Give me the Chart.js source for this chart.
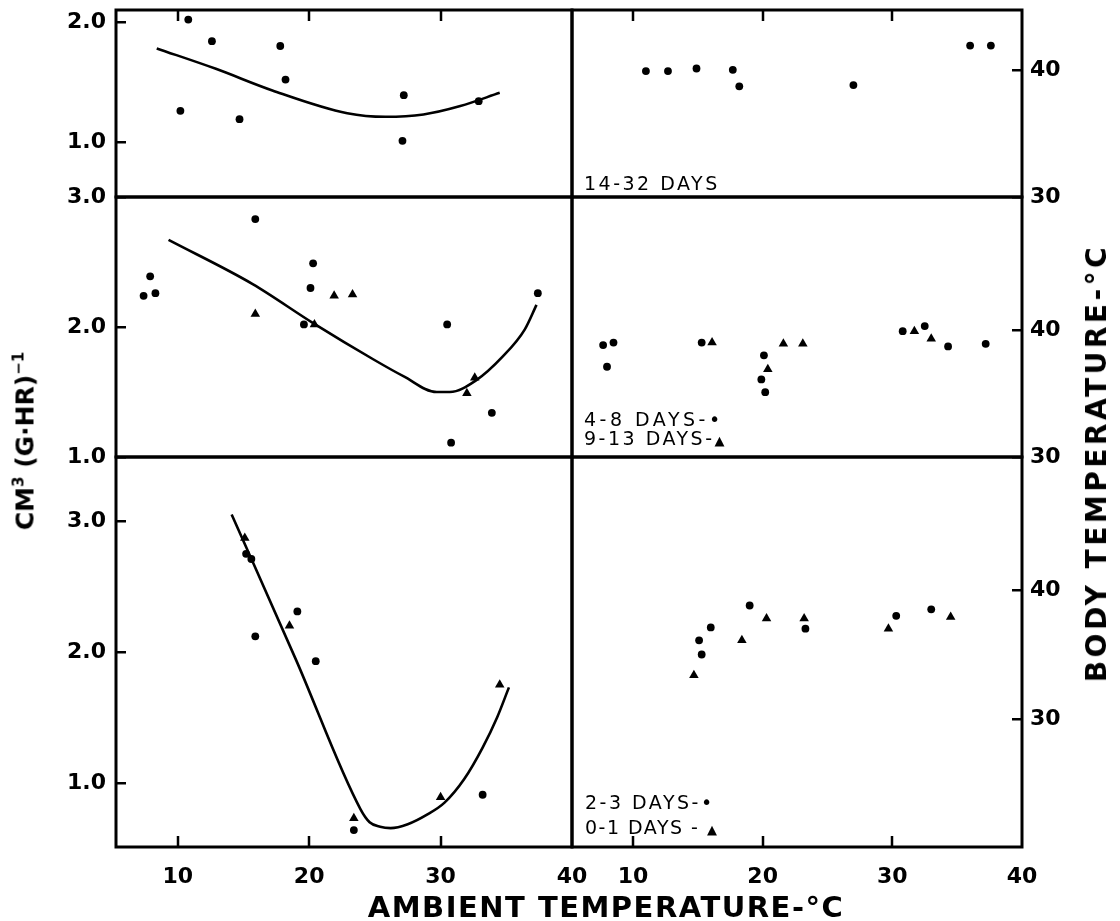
<!DOCTYPE html>
<html>
<head>
<meta charset="utf-8">
<script src="https://cdn.jsdelivr.net/npm/chart.js@4.4.1/dist/chart.umd.min.js"></script>
<style>
  body { margin: 0; background: #fff; }
  #fig { position: relative; width: 1120px; height: 921px; overflow: hidden; font-family: "DejaVu Sans", sans-serif; color: #000; }
  #fig canvas { position: absolute; left: -100px; top: -100px; }
  .lbl { position: absolute; white-space: nowrap; line-height: 1; }
  .leg { font-size: 19px; letter-spacing: 2.5px; }
  .ttl { font-weight: bold; }
  .mid { transform: translate(-50%, -50%); }
  .rot { transform: translate(-50%, -50%) rotate(-90deg); }
  sup { font-size: 60%; vertical-align: 0.7em; line-height: 0; }
</style>
</head>
<body>
<div id="fig">
  <canvas id="tl" width="1320" height="1121"></canvas>
  <canvas id="tr" width="1320" height="1121"></canvas>
  <canvas id="ml" width="1320" height="1121"></canvas>
  <canvas id="mr" width="1320" height="1121"></canvas>
  <canvas id="bl" width="1320" height="1121"></canvas>
  <canvas id="br" width="1320" height="1121"></canvas>

  <div class="lbl leg" style="left:584px;top:174px">14-32 DAYS</div>
  <div class="lbl leg" style="left:584px;top:410px;letter-spacing:3.5px">4-8 DAYS-•</div>
  <div class="lbl leg" style="left:584px;top:429px">9-13 DAYS-<span style="font-size:13px">▲</span></div>
  <div class="lbl leg" style="left:585px;top:793px">2-3 DAYS-•</div>
  <div class="lbl leg" style="left:585px;top:818px;letter-spacing:1.5px">0-1 DAYS - <span style="font-size:13px">▲</span></div>

  <div class="lbl ttl mid" style="left:606px;top:907px;font-size:29px;letter-spacing:1.5px">AMBIENT TEMPERATURE-°C</div>
  <div class="lbl ttl rot" style="left:25px;top:441px;font-size:25px">CM<sup>3</sup> (G·HR)<sup>−1</sup></div>
  <div class="lbl ttl rot" style="left:1097px;top:463px;font-size:28px;letter-spacing:3.5px">BODY TEMPERATURE-°C</div>
</div>
<script>
// canvases overhang the page by OFF px on every side
const OFF = 100, CW = 1320, CH = 1121;

// ambient temperature ticks (both columns)
const xTicks = [10, 20, 30, 40];
const xMarks = [10, 20, 30];
const oxyTicksTop = [1.0, 2.0];
const oxyTicks = [1.0, 2.0, 3.0];
const bodyTicks = [30, 40];

// 14-32 days
const oxy14X = [10.8, 12.6, 17.8, 18.2, 10.2, 14.7, 27.2, 27.1, 32.9];
const oxy14Y = [2.02, 1.84, 1.80, 1.52, 1.26, 1.19, 1.39, 1.01, 1.34];
const fit14X = [8.4, 12.9, 17.2, 22.9, 25.8, 28.7, 31.5, 34.5];
const fit14Y = [1.78, 1.61, 1.43, 1.24, 1.21, 1.23, 1.30, 1.41];
const body14X = [11.0, 12.7, 14.9, 17.7, 18.2, 27.0, 36.0, 37.6];
const body14Y = [39.9, 39.9, 40.1, 40.0, 38.7, 38.8, 41.9, 41.9];

// 4-8 days (circles) and 9-13 days (triangles)
const oxy48X = [7.4, 7.9, 8.3, 15.9, 19.6, 20.1, 20.3, 30.5, 30.8, 33.9, 37.4];
const oxy48Y = [2.24, 2.39, 2.26, 2.83, 2.02, 2.30, 2.49, 2.02, 1.11, 1.34, 2.26];
const oxy913X = [15.9, 20.4, 21.9, 23.3, 32.0, 32.6];
const oxy913Y = [2.10, 2.02, 2.24, 2.25, 1.49, 1.61];
const fit48X = [9.3, 15.7, 20.3, 24.9, 27.2, 29.7, 30.7, 32.7, 34.7, 36.4, 37.3];
const fit48Y = [2.67, 2.33, 2.03, 1.75, 1.62, 1.50, 1.50, 1.59, 1.77, 1.98, 2.17];
const body48X = [7.7, 8.5, 8.0, 15.3, 20.1, 19.9, 20.2, 30.8, 32.5, 34.3, 37.2];
const body48Y = [38.8, 39.0, 37.1, 39.0, 38.0, 36.1, 35.1, 39.9, 40.3, 38.7, 38.9];
const body913X = [16.1, 20.4, 21.6, 23.1, 31.7, 33.0];
const body913Y = [39.0, 36.9, 38.9, 38.9, 39.9, 39.3];

// 2-3 days (circles) and 0-1 days (triangles)
const oxy23X = [15.2, 15.6, 15.9, 19.1, 20.5, 23.4, 33.2];
const oxy23Y = [2.75, 2.71, 2.12, 2.31, 1.93, 0.64, 0.91];
const oxy01X = [15.1, 18.5, 34.5, 23.4, 30.0];
const oxy01Y = [2.87, 2.20, 1.75, 0.73, 0.89];
const fit01X = [14.1, 19.0, 23.9, 24.6, 25.4, 26.2, 27.5, 29.0, 30.3, 31.8, 33.2, 34.3, 35.2];
const fit01Y = [3.05, 1.94, 0.80, 0.70, 0.665, 0.655, 0.685, 0.76, 0.85, 1.03, 1.27, 1.50, 1.73];
const body23X = [15.1, 15.3, 16.0, 19.0, 23.3, 30.3, 33.0];
const body23Y = [36.1, 35.0, 37.1, 38.8, 37.0, 38.0, 38.5];
const body01X = [14.7, 18.4, 20.3, 23.2, 29.7, 34.5];
const body01Y = [33.4, 36.1, 37.8, 37.8, 37.0, 37.9];

const zip = (xs, ys) => xs.map((x, i) => ({ x, y: ys[i] }));

const dots = (xs, ys) => ({
  data: zip(xs, ys), pointStyle: 'circle', pointRadius: 3.9,
  backgroundColor: '#000', borderColor: '#000', borderWidth: 0
});
const tris = (xs, ys) => ({
  data: zip(xs, ys), pointStyle: 'triangle', pointRadius: 5.5,
  backgroundColor: '#000', borderColor: '#000', borderWidth: 0
});
const curve = (xs, ys) => ({
  data: zip(xs, ys), showLine: true, pointRadius: 0, borderColor: '#000',
  borderWidth: 2.6, cubicInterpolationMode: 'monotone', fill: false
});

// panel edges in page pixels
const colL = [116, 572], colR = [572, 1022];
const rowT = [10, 197], rowM = [197, 457], rowB = [457, 847];
const Y_LEFT_W = 100, Y_RIGHT_W = 80, X_BOTTOM_H = 50;

// frame round the plot area, plus short inward marks at the x values given
function makeFrame(topVals, bottomVals) {
  return {
    id: 'frame',
    afterDraw(chart) {
      const a = chart.chartArea, c = chart.ctx, sx = chart.scales.x;
      c.save();
      c.strokeStyle = '#000';
      c.lineWidth = 3;
      c.strokeRect(a.left, a.top, a.right - a.left, a.bottom - a.top);
      c.lineWidth = 2.5;
      c.beginPath();
      topVals.forEach(v => {
        const px = Math.round(sx.getPixelForValue(v));
        c.moveTo(px, a.top);
        c.lineTo(px, a.top + 11);
      });
      bottomVals.forEach(v => {
        const px = Math.round(sx.getPixelForValue(v));
        c.moveTo(px, a.bottom);
        c.lineTo(px, a.bottom - 11);
      });
      c.stroke();
      c.restore();
    }
  };
}

const tickFont = { family: 'DejaVu Sans', size: 22, weight: 'bold' };

function xScale(labels) {
  return {
    type: 'linear', position: 'bottom', min: 5.3, max: 40, display: labels,
    afterFit: s => { s.height = labels ? X_BOTTOM_H : 0; },
    afterBuildTicks: s => { s.ticks = xTicks.map(v => ({ value: v })); },
    ticks: {
      color: '#000', font: tickFont, padding: 9,
      maxRotation: 0, minRotation: 0, autoSkip: false
    },
    grid: { display: false },
    border: { display: false }
  };
}

function yScale(pos, min, max, ticks, digits) {
  return {
    type: 'linear', position: pos, min, max,
    afterFit: s => { s.width = pos === 'left' ? Y_LEFT_W : Y_RIGHT_W; },
    afterBuildTicks: s => { s.ticks = ticks.map(v => ({ value: v })); },
    ticks: {
      color: '#000', font: tickFont, padding: pos === 'left' ? 20 : 18,
      callback: v => v.toFixed(digits)
    },
    grid: { display: true, drawOnChartArea: false, tickLength: -10, color: '#000', lineWidth: 2.5 },
    border: { display: false }
  };
}

function panel(id, cols, rows, scales, datasets, topVals, bottomVals) {
  const yw = scales.y.position === 'left' ? Y_LEFT_W : Y_RIGHT_W;
  const xb = scales.x.display ? X_BOTTOM_H : 0;
  const pad = {
    left: cols[0] + OFF - (scales.y.position === 'left' ? yw : 0),
    right: CW - cols[1] - OFF - (scales.y.position === 'right' ? yw : 0),
    top: rows[0] + OFF,
    bottom: CH - rows[1] - OFF - xb
  };
  return new Chart(document.getElementById(id), {
    type: 'scatter',
    data: { datasets },
    options: {
      responsive: false, animation: false, events: [],
      layout: { padding: pad },
      plugins: { legend: { display: false }, tooltip: { enabled: false } },
      scales
    },
    plugins: [makeFrame(topVals || [], bottomVals || [])]
  });
}

panel('tl', colL, rowT,
  { x: xScale(false), y: yScale('left', 0.542, 2.1, oxyTicksTop, 1) },
  [dots(oxy14X, oxy14Y), curve(fit14X, fit14Y)], xMarks, []);

panel('tr', colR, rowT,
  { x: xScale(false), y: yScale('right', 30, 44.7, bodyTicks, 0) },
  [dots(body14X, body14Y)], xMarks, []);

panel('ml', colL, rowM,
  { x: xScale(false), y: yScale('left', 1.0, 3.0, oxyTicks, 1) },
  [dots(oxy48X, oxy48Y), tris(oxy913X, oxy913Y), curve(fit48X, fit48Y)]);

panel('mr', colR, rowM,
  { x: xScale(false), y: yScale('right', 30, 50.45, bodyTicks, 0) },
  [dots(body48X, body48Y), tris(body913X, body913Y)]);

panel('bl', colL, rowB,
  { x: xScale(true), y: yScale('left', 0.511, 3.489, oxyTicks, 1) },
  [dots(oxy23X, oxy23Y), tris(oxy01X, oxy01Y), curve(fit01X, fit01Y)], [], xMarks);

panel('br', colR, rowB,
  { x: xScale(true), y: yScale('right', 20.08, 50.31, bodyTicks, 0) },
  [dots(body23X, body23Y), tris(body01X, body01Y)], [], xMarks);
</script>
</body>
</html>
